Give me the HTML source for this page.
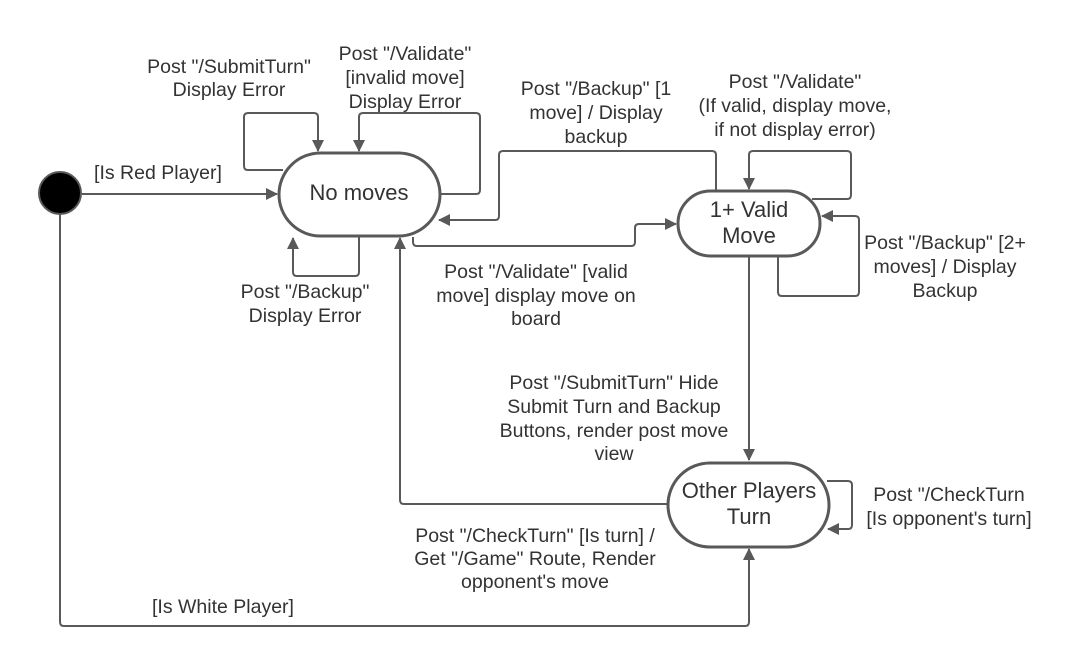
<!DOCTYPE html>
<html><head><meta charset="utf-8"><style>
html,body{margin:0;padding:0;background:#fff;}
svg{display:block;}
text{font-family:"Liberation Sans",Arial,sans-serif;font-size:19.5px;fill:#333;text-anchor:middle;}
.n{font-size:22px;}
</style></head><body>
<svg width="1079" height="670" viewBox="0 0 1079 670" xmlns="http://www.w3.org/2000/svg">
<defs>
<marker id="a" markerWidth="12" markerHeight="12" refX="11" refY="6" orient="auto" markerUnits="userSpaceOnUse">
<path d="M0,0 L12,6 L0,12 z" fill="#595959"/>
</marker>
</defs>
<g fill="none" stroke="#595959" stroke-width="2" stroke-linejoin="round">
<path d="M82,194 H277" marker-end="url(#a)"/>
<path d="M283,170 H248 Q244,170 244,166 V117 Q244,113 248,113 H314 Q318,113 318,117 V151" marker-end="url(#a)"/>
<path d="M440,194 H476 Q480,194 480,190 V117 Q480,113 476,113 H363 Q359,113 359,117 V151" marker-end="url(#a)"/>
<path d="M359,237 V272 Q359,276 355,276 H297 Q293,276 293,272 V238" marker-end="url(#a)"/>
<path d="M413,237 V242 Q413,246 417,246 H631 Q635,246 635,242 V228 Q635,224 639,224 H676" marker-end="url(#a)"/>
<path d="M716,190 V155 Q716,151 712,151 H503 Q499,151 499,155 V216 Q499,220 495,220 H439" marker-end="url(#a)"/>
<path d="M812,199 H847 Q851,199 851,195 V155 Q851,151 847,151 H753 Q749,151 749,155 V189" marker-end="url(#a)"/>
<path d="M778,257 V292 Q778,296 782,296 H855 Q859,296 859,292 V220 Q859,216 855,216 H822" marker-end="url(#a)"/>
<path d="M749,257 V460" marker-end="url(#a)"/>
<path d="M668,504 H404 Q400,504 400,500 V238" marker-end="url(#a)"/>
<path d="M827,481 H848 Q852,481 852,485 V525 Q852,529 848,529 H828" marker-end="url(#a)"/>
<path d="M60,214 V622 Q60,626 64,626 H745 Q749,626 749,622 V549" marker-end="url(#a)"/>
</g>
<g fill="#fff" stroke="#595959" stroke-width="3">
<rect x="279" y="153" width="161" height="83" rx="41.5"/>
<rect x="678" y="191" width="142" height="65" rx="32.5"/>
<rect x="668" y="463" width="161" height="84" rx="42"/>
</g>
<circle cx="60" cy="193" r="21" fill="#000" stroke="#595959" stroke-width="2"/>
<text class="n" x="359" y="200">No moves</text>
<text class="n" x="749" y="217">1+ Valid</text>
<text class="n" x="749" y="243">Move</text>
<text class="n" x="749" y="498">Other Players</text>
<text class="n" x="749" y="524">Turn</text>
<text x="229" y="73">Post "/SubmitTurn"</text>
<text x="229" y="96">Display Error</text>
<text x="405" y="60">Post "/Validate"</text>
<text x="405" y="84">[invalid move]</text>
<text x="405" y="108">Display Error</text>
<text x="596" y="95">Post "/Backup" [1</text>
<text x="596" y="119">move] / Display</text>
<text x="596" y="143">backup</text>
<text x="795" y="88">Post "/Validate"</text>
<text x="795" y="112">(If valid, display move,</text>
<text x="795" y="136">if not display error)</text>
<text x="158" y="179">[Is Red Player]</text>
<text x="305" y="298">Post "/Backup"</text>
<text x="305" y="322">Display Error</text>
<text x="536" y="278">Post "/Validate" [valid</text>
<text x="536" y="302">move] display move on</text>
<text x="536" y="325">board</text>
<text x="945" y="249">Post "/Backup" [2+</text>
<text x="945" y="273">moves] / Display</text>
<text x="945" y="297">Backup</text>
<text x="614" y="389">Post "/SubmitTurn" Hide</text>
<text x="614" y="413">Submit Turn and Backup</text>
<text x="614" y="437">Buttons, render post move</text>
<text x="614" y="460">view</text>
<text x="949" y="501">Post "/CheckTurn</text>
<text x="949" y="525">[Is opponent's turn]</text>
<text x="535" y="542">Post "/CheckTurn" [Is turn] /</text>
<text x="535" y="565">Get "/Game" Route, Render</text>
<text x="535" y="588">opponent's move</text>
<text x="223" y="613">[Is White Player]</text>
</svg>
</body></html>
